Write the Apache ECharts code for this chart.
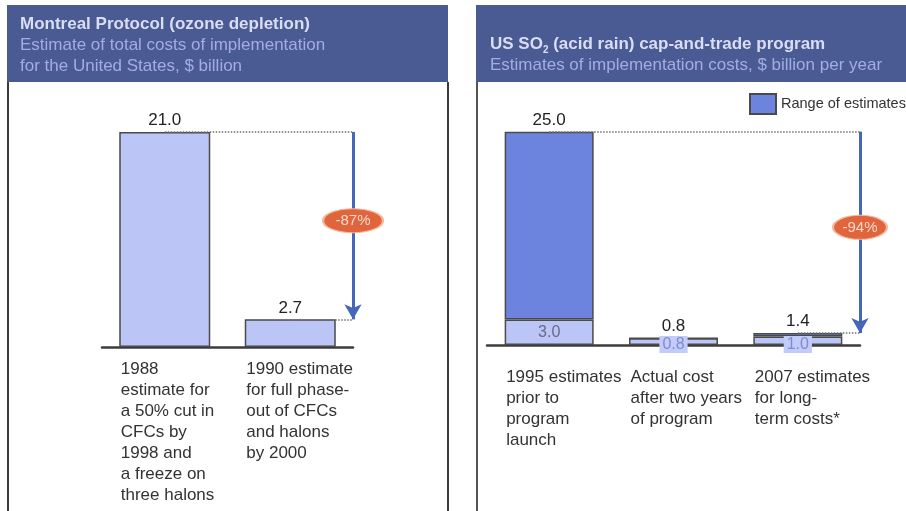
<!DOCTYPE html>
<html>
<head>
<meta charset="utf-8">
<script src="https://cdn.jsdelivr.net/npm/echarts@6/dist/echarts.min.js"></script>
<style>
  html, body { margin: 0; padding: 0; background: #ffffff; }
  #chart { width: 906px; height: 511px; }
</style>
</head>
<body>
<div id="chart"></div>
<script>
// Montreal Protocol: estimated total US implementation cost, $ billion
const ozoneCategories = [
  '1988\nestimate for\na 50% cut in\nCFCs by\n1998 and\na freeze on\nthree halons',
  '1990 estimate\nfor full phase-\nout of CFCs\nand halons\nby 2000'
];
const ozoneCosts = [21.0, 2.7];

// US SO2 cap-and-trade: implementation cost estimates, $ billion per year
const so2Categories = [
  '1995 estimates\nprior to\nprogram\nlaunch',
  'Actual cost\nafter two years\nof program',
  '2007 estimates\nfor long-\nterm costs*'
];
const so2Low = [3.0, 0.8, 1.0];
const so2High = [25.0, 0.8, 1.4];
const rangeName = 'Range of estimates';

const FONT = '"Liberation Sans", Arial, sans-serif';
const LIGHT = '#bcc6f6';
const DARK = '#6d84df';
const EDGE = '#4a4a4a';
const ARROW = '#4666b8';
const BADGE = '#e0643c';

const pctChange = (from, to) => Math.round((to - from) / from * 100) + '%';
const wrapLines = text => text.split('\n').map(l => '{c|' + l + '}').join('\n');
const categoryRich = w => ({ c: { width: w, align: 'left', fontSize: 17, lineHeight: 21, color: '#333333', fontFamily: FONT } });

const ozoneLast = ozoneCosts[ozoneCosts.length - 1];
const so2First = so2High[0];
const so2Last = so2High[so2High.length - 1];
const ozoneEnd = ozoneCategories.length;
const so2End = so2Categories.length;

// Percentage badge sitting on a downward arrow, with dotted guides at both levels
function reductionSeries(xAxisIndex, yAxisIndex, end, from, to, fromX, toX, badgeWidth) {
  return [
    {
      name: 'Reference levels', type: 'lines', coordinateSystem: 'cartesian2d', xAxisIndex, yAxisIndex, z: 3,
      symbol: 'none',
      lineStyle: { color: '#707070', width: 1.5, type: 'dotted', opacity: 1 },
      data: [
        { coords: [[fromX, from], [end, from]] },
        { coords: [[toX, to], [end, to]] }
      ]
    },
    {
      name: 'Change', type: 'scatter', xAxisIndex, yAxisIndex, z: 6,
      data: [[end, (from + to) / 2]],
      symbol: 'circle', symbolSize: [badgeWidth, 24], symbolOffset: [0, -5],
      itemStyle: { color: BADGE, borderColor: '#f4b89c', borderWidth: 1.5, opacity: 1 },
      label: {
        show: true, position: 'inside',
        formatter: () => pctChange(from, to),
        fontFamily: FONT, fontSize: 15, color: '#f8d9cc'
      },
      markLine: {
        silent: true, z: 4,
        symbol: ['none', 'arrow'], symbolSize: [13, 15],
        label: { show: false },
        lineStyle: { color: ARROW, width: 3, type: 'solid' },
        data: [[{ coord: [end, from] }, { coord: [end, to] }]]
      }
    }
  ];
}

const chart = echarts.init(document.getElementById('chart'), null, { renderer: 'canvas' });

chart.setOption({
  animation: false,
  backgroundColor: '#ffffff',
  textStyle: { fontFamily: FONT },
  graphic: [
    { type: 'rect', z: 0, shape: { x: 7, y: 5, width: 441, height: 77 }, style: { fill: '#4a5a93' } },
    { type: 'rect', z: 0, shape: { x: 476, y: 5, width: 440, height: 77 }, style: { fill: '#4a5a93' } },
    { type: 'line', z: 0, shape: { x1: 8, y1: 82, x2: 8, y2: 511 }, style: { stroke: '#3a3a3a', lineWidth: 2 } },
    { type: 'line', z: 0, shape: { x1: 448, y1: 82, x2: 448, y2: 511 }, style: { stroke: '#3a3a3a', lineWidth: 2 } },
    { type: 'line', z: 0, shape: { x1: 477, y1: 82, x2: 477, y2: 511 }, style: { stroke: '#555555', lineWidth: 2 } }
  ],
  title: [
    {
      z: 10, left: 20, top: 14, padding: 0, itemGap: 0,
      text: 'Montreal Protocol (ozone depletion)',
      subtext: 'Estimate of total costs of implementation\nfor the United States, $ billion',
      textStyle: { fontFamily: FONT, fontSize: 17, fontWeight: 'bold', lineHeight: 21, color: '#dadef5' },
      subtextStyle: { fontFamily: FONT, fontSize: 17, lineHeight: 21, color: '#a3ade4' }
    },
    {
      z: 10, left: 490, top: 34, padding: 0, itemGap: 0,
      text: '{t|US SO}{s|2}{t| (acid rain) cap-and-trade program}',
      subtext: 'Estimates of implementation costs, $ billion per year',
      textStyle: {
        fontFamily: FONT, fontSize: 17, fontWeight: 'bold', lineHeight: 21, color: '#dadef5',
        rich: {
          t: { fontFamily: FONT, fontSize: 17, fontWeight: 'bold', lineHeight: 21, color: '#dadef5' },
          s: { fontFamily: FONT, fontSize: 10, fontWeight: 'bold', lineHeight: 21, color: '#dadef5', verticalAlign: 'bottom', padding: [6, 0, 0, 0] }
        }
      },
      subtextStyle: { fontFamily: FONT, fontSize: 17, lineHeight: 21, color: '#a3ade4' }
    }
  ],
  legend: {
    data: [rangeName],
    left: 749, top: 93, padding: 0,
    itemWidth: 26, itemHeight: 20, itemGap: 8,
    icon: 'rect',
    selectedMode: false,
    textStyle: { fontFamily: FONT, fontSize: 14.5, color: '#333333' }
  },
  grid: [
    { left: 102, right: 553, top: 91, bottom: 164, outerBoundsMode: 'none' },
    { left: 487, right: 46, top: 89, bottom: 166, outerBoundsMode: 'none' }
  ],
  xAxis: [
    {
      gridIndex: 0, type: 'category', data: ozoneCategories,
      axisLine: { show: true, lineStyle: { color: '#3c3c3c', width: 2.5 } },
      axisTick: { show: false },
      splitLine: { show: false },
      axisLabel: { interval: 0, hideOverlap: false, margin: 12, formatter: wrapLines, rich: categoryRich(88) }
    },
    {
      gridIndex: 1, type: 'category', data: so2Categories,
      axisLine: { show: true, lineStyle: { color: '#3c3c3c', width: 2.5 } },
      axisTick: { show: false },
      splitLine: { show: false },
      axisLabel: { interval: 0, hideOverlap: false, margin: 22, formatter: wrapLines, rich: categoryRich(86) }
    },
    { gridIndex: 0, type: 'value', min: 0, max: ozoneEnd, show: false },
    { gridIndex: 1, type: 'value', min: 0, max: so2End, show: false }
  ],
  yAxis: [
    { gridIndex: 0, type: 'value', min: 0, max: 25, show: false },
    { gridIndex: 1, type: 'value', min: 0, max: 30, show: false }
  ],
  series: [
    // ---- Montreal Protocol ----
    {
      name: 'Cost estimate', type: 'bar', xAxisIndex: 0, yAxisIndex: 0, z: 2,
      data: ozoneCosts, barWidth: 91,
      itemStyle: { color: LIGHT, borderColor: EDGE, borderWidth: 1.5 },
      label: {
        show: true, position: 'top', distance: 3,
        formatter: p => p.value.toFixed(1),
        fontFamily: FONT, fontSize: 17, color: '#222222'
      }
    },
    ...reductionSeries(2, 0, ozoneEnd, ozoneCosts[0], ozoneLast, 0.5, ozoneEnd - 0.5, 60),
    // ---- US SO2 cap-and-trade ----
    {
      name: 'Low estimate', type: 'bar', xAxisIndex: 1, yAxisIndex: 1, stack: 'so2', z: 2,
      barWidth: 89,
      itemStyle: { color: LIGHT, borderColor: EDGE, borderWidth: 1.5 },
      data: so2Low.map((v, i) => ({
        value: v,
        label: i === 0
          ? { show: true, position: 'inside', color: '#656b80' }
          : { show: true, position: 'insideBottom', distance: 0, offset: [0, 8], color: '#7f8ccb', backgroundColor: '#c3ccf8', padding: [1, 3, 0, 3] }
      })),
      label: { show: true, formatter: p => p.value.toFixed(1), fontFamily: FONT, fontSize: 16 }
    },
    {
      name: rangeName, type: 'bar', xAxisIndex: 1, yAxisIndex: 1, stack: 'so2', z: 2,
      barWidth: 89,
      itemStyle: { color: DARK, borderColor: EDGE, borderWidth: 1.5 },
      data: so2High.map((v, i) => +(v - so2Low[i]).toFixed(2)),
      label: {
        show: true, position: 'top', distance: 3,
        formatter: p => so2High[p.dataIndex].toFixed(1),
        fontFamily: FONT, fontSize: 17, color: '#222222'
      }
    },
    ...reductionSeries(3, 1, so2End, so2First, so2Last, 0.5, so2End - 0.5, 54)
  ]
});
</script>
</body>
</html>
